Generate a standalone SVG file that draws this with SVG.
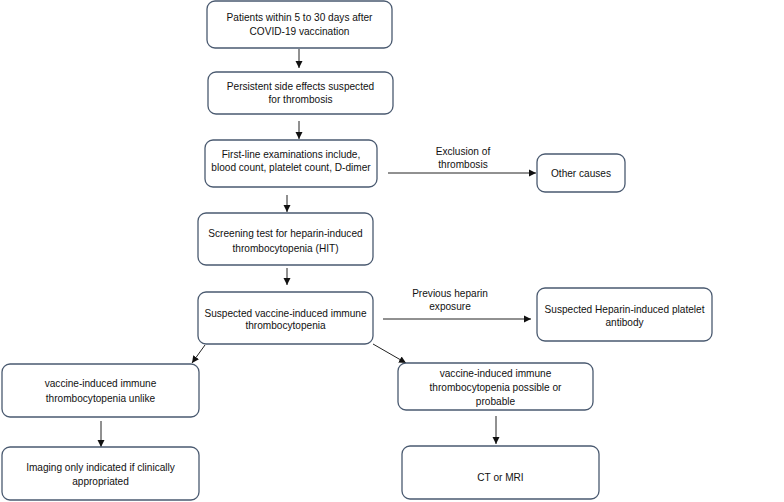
<svg xmlns="http://www.w3.org/2000/svg" width="784" height="502" viewBox="0 0 784 502">
<style>
.box{fill:#fff;stroke:#4a5a70;stroke-width:1.3}
.t{font-family:"Liberation Sans",Arial,sans-serif;font-size:10.1px;fill:#111;text-anchor:middle}
.c{stroke:#222;stroke-width:1;fill:none;marker-end:url(#ah)}
</style>
<defs>
<marker id="ah" markerWidth="8" markerHeight="8" refX="7" refY="4" orient="auto" markerUnits="userSpaceOnUse">
<path d="M0,0.5 L7,4 L0,7.5 Z" fill="#111"/>
</marker>
</defs>
<rect width="784" height="502" fill="#fff"/>
<g id="connectors">
<line class="c" x1="299" y1="49" x2="299" y2="68"/>
<line class="c" x1="299" y1="121" x2="299" y2="139"/>
<line class="c" x1="388" y1="173" x2="536" y2="173"/>
<line class="c" x1="287" y1="195" x2="287" y2="212"/>
<line class="c" x1="287" y1="268" x2="287" y2="285"/>
<line class="c" x1="383" y1="319" x2="531" y2="319"/>
<line class="c" x1="205" y1="345" x2="192" y2="363"/>
<line class="c" x1="373" y1="344" x2="406" y2="363"/>
<line class="c" x1="101" y1="421" x2="101" y2="447"/>
<line class="c" x1="496" y1="416" x2="496" y2="444"/>
<text class="t" x="463" y="155">Exclusion of</text>
<text class="t" x="463" y="168">thrombosis</text>
<text class="t" x="450" y="297">Previous heparin</text>
<text class="t" x="450" y="310">exposure</text>
</g>
<g id="n1"><rect class="box" x="207" y="1" width="185" height="47" rx="8"/>
<text class="t" x="299.5" y="21">Patients within 5 to 30 days after</text>
<text class="t" x="299.5" y="35">COVID-19 vaccination</text></g>
<g id="n2"><rect class="box" x="208" y="72" width="185" height="42" rx="8"/>
<text class="t" x="300.5" y="90">Persistent side effects suspected</text>
<text class="t" x="300.5" y="103">for thrombosis</text></g>
<g id="n3"><rect class="box" x="205" y="140" width="172" height="47" rx="8"/>
<text class="t" x="291" y="158">First-line examinations include,</text>
<text class="t" x="291" y="171">blood count, platelet count, D-dimer</text></g>
<g id="n4"><rect class="box" x="537" y="154" width="88" height="38" rx="8"/>
<text class="t" x="581" y="177">Other causes</text></g>
<g id="n5"><rect class="box" x="198" y="213" width="175" height="52" rx="8"/>
<text class="t" x="285.5" y="237">Screening test for heparin-induced</text>
<text class="t" x="285.5" y="252">thrombocytopenia (HIT)</text></g>
<g id="n6"><rect class="box" x="198" y="292" width="175" height="52" rx="8"/>
<text class="t" x="285.5" y="317">Suspected vaccine-induced immune</text>
<text class="t" x="285.5" y="329">thrombocytopenia</text></g>
<g id="n7"><rect class="box" x="537" y="288" width="175" height="53" rx="8"/>
<text class="t" x="624.5" y="313">Suspected Heparin-induced platelet</text>
<text class="t" x="624.5" y="326">antibody</text></g>
<g id="n8"><rect class="box" x="2" y="364" width="197" height="53" rx="8"/>
<text class="t" x="100.5" y="387">vaccine-induced immune</text>
<text class="t" x="100.5" y="402">thrombocytopenia unlike</text></g>
<g id="n9"><rect class="box" x="398" y="363" width="195" height="47" rx="8"/>
<text class="t" x="495.5" y="377">vaccine-induced immune</text>
<text class="t" x="495.5" y="391">thrombocytopenia possible or</text>
<text class="t" x="495.5" y="405">probable</text></g>
<g id="n10"><rect class="box" x="2" y="447" width="197" height="53" rx="8"/>
<text class="t" x="100.5" y="471">Imaging only indicated if clinically</text>
<text class="t" x="100.5" y="485">appropriated</text></g>
<g id="n11"><rect class="box" x="402" y="446" width="197" height="53" rx="8"/>
<text class="t" x="500.5" y="481">CT or MRI</text></g>
</svg>
